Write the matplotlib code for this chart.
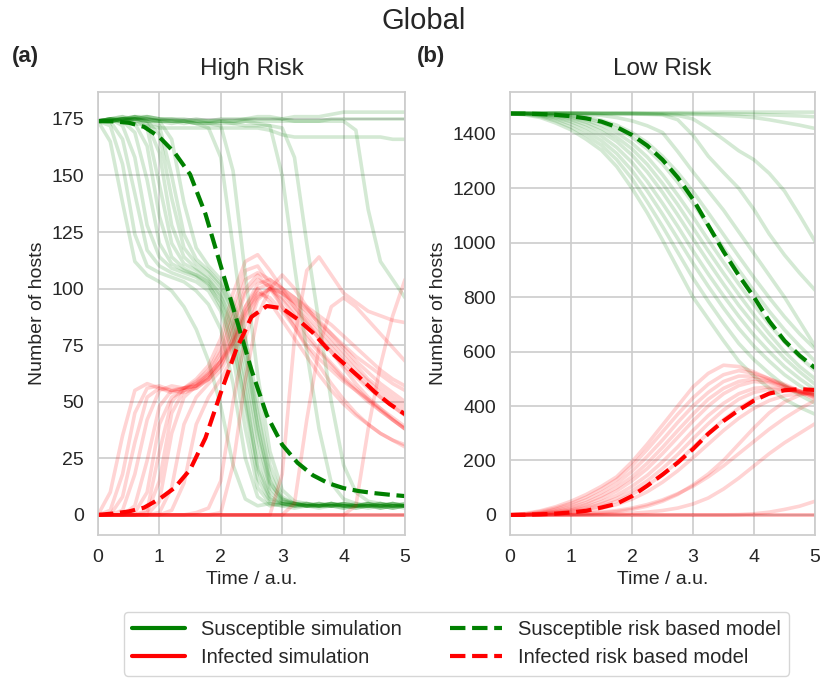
import matplotlib
matplotlib.use("Agg")
import matplotlib.pyplot as plt
import seaborn as sns
from matplotlib.lines import Line2D

# ---------------- data ----------------
t_sim_high = [0.0, 0.2, 0.4, 0.6, 0.8, 1.0, 1.2, 1.4, 1.6, 1.8, 2.0, 2.2, 2.4,
              2.6, 2.8, 3.0, 3.2, 3.4, 3.6, 3.8, 4.0, 4.2, 4.4, 4.6, 4.8, 5.0]

S_high_sims = [
    [174,165,138,112,106,103,99,92,82,68,48,22,7,4,5,4,3,4,5,4,3,4,5,4,3,4],
    [174,172,155,124,110,107,105,103,99,93,82,58,25,8,4,5,4,4,3,4,5,4,4,3,4,5],
    [174,174,166,142,117,110,107,105,103,99,90,70,38,12,5,4,5,4,4,5,4,3,4,4,5,4],
    [174,175,172,158,128,114,109,107,105,101,94,78,48,16,6,5,4,5,4,4,5,4,4,5,4,3],
    [174,174,174,169,148,120,111,108,106,103,96,82,55,20,7,5,4,4,5,4,3,4,5,4,4,4],
    [174,175,176,173,163,132,114,109,106,102,92,75,50,22,8,5,5,4,4,5,4,4,3,4,5,4],
    [174,174,175,175,171,146,120,111,108,104,97,84,60,28,10,5,4,5,4,4,4,5,4,4,3,4],
    [174,175,174,176,173,160,128,114,109,105,99,88,66,34,12,6,5,4,4,5,4,4,5,3,4,4],
    [174,174,175,175,174,168,140,118,111,107,101,90,70,40,15,6,5,5,4,4,5,4,4,4,5,4],
    [174,175,176,175,174,172,150,124,113,108,102,92,74,45,18,7,5,4,5,4,4,4,5,4,3,4],
    [174,174,175,176,175,174,166,138,118,110,104,94,78,50,22,8,5,4,4,5,4,4,4,5,4,4],
    [174,175,174,175,176,175,174,174,173,171,158,118,78,38,14,7,5,4,4,5,4,3,4,4,5,4],
    [174,174,175,175,174,174,173,174,173,173,172,152,106,62,28,11,6,5,4,4,5,4,4,3,4,4],
    [174,175,175,176,175,174,174,173,174,173,174,173,174,173,172,150,110,72,38,14,7,5,4,5,4,4],
    [174,174,175,175,175,174,174,174,173,173,173,173,172,172,172,171,158,120,85,50,22,10,6,5,4,5],
    [174,175,175,176,176,175,175,175,174,174,174,174,175,175,175,175,174,174,174,174,174,170,135,112,104,96],
    [174,175,174,175,176,175,175,174,175,174,175,175,175,176,176,175,176,176,176,177,178,178,178,178,178,178],
    [174,174,175,174,174,174,174,174,174,174,174,174,174,174,174,174,174,174,174,175,175,175,175,175,175,175],
    [174,174,174,173,172,171,171,171,171,171,171,171,171,171,170,168,167,167,167,167,167,167,167,167,166,166],
]

I_high_sims = [
    [0,10,35,55,58,56,55,56,60,66,78,98,112,115,108,100,92,85,78,72,65,58,52,47,42,38],
    [0,2,18,45,56,57,55,56,59,64,74,92,108,110,102,92,83,74,66,58,51,45,40,36,33,30],
    [0,0,8,32,52,56,54,56,58,63,72,88,104,107,104,100,96,92,88,84,79,74,69,64,60,57],
    [0,0,2,18,42,55,57,56,57,61,70,84,100,106,100,92,85,78,72,66,60,55,50,46,42,38],
    [0,0,0,4,24,48,55,54,56,60,68,82,98,104,101,98,94,90,85,80,75,70,66,62,58,55],
    [0,0,0,1,10,40,52,55,56,60,66,78,92,100,94,86,78,70,62,55,49,44,40,36,33,31],
    [0,0,0,0,2,28,50,56,57,60,66,76,90,98,96,90,83,75,69,64,59,55,51,47,43,39],
    [0,0,0,0,1,15,45,55,58,62,68,76,88,97,100,95,88,80,73,67,61,56,51,46,42,38],
    [0,0,0,0,0,6,36,52,57,62,68,78,92,102,104,100,96,91,86,80,74,68,63,58,54,50],
    [0,0,0,0,0,1,12,40,52,58,64,74,88,100,102,98,92,86,80,74,68,62,57,52,48,44],
    [0,0,0,0,0,0,2,14,40,52,60,70,84,96,100,98,94,88,82,76,70,64,59,54,50,46],
    [0,0,0,0,0,0,0,0,1,3,15,50,78,95,100,96,90,84,78,72,66,61,56,52,48,44],
    [0,0,0,0,0,0,0,0,0,0,1,22,60,88,100,106,100,92,84,78,72,66,60,56,52,48],
    [0,0,0,0,0,0,0,0,0,0,0,0,0,0,0,18,78,108,114,106,98,94,90,88,86,85],
    [0,0,0,0,0,0,0,0,0,0,0,0,0,0,0,0,5,42,74,92,96,92,86,80,74,68],
    [0,0,0,0,0,0,0,0,0,0,0,0,0,0,0,0,0,0,0,0,0,4,38,66,88,104],
    [0,0,0,0,0,0,0,0,0,0,0,0,0,0,0,0,0,0,0,0,0,0,0,0,0,0],
    [0,0,0,0,0,0,0,0,0,0,0,0,0,0,0,0,0,0,0,0,0,0,0,0,0,0],
    [0,0,0,0,0,0,0,0,0,0,0,0,0,0,0,0,0,0,0,0,0,0,0,0,0,0],
]

t_sim_low = [0.0, 0.25, 0.5, 0.75, 1.0, 1.25, 1.5, 1.75, 2.0, 2.25, 2.5,
             2.75, 3.0, 3.25, 3.5, 3.75, 4.0, 4.25, 4.5, 4.75, 5.0]

S_low_sims = [
    [1475,1470,1460,1440,1415,1380,1340,1280,1200,1110,1010,905,800,720,640,565,510,465,425,395,370],
    [1475,1472,1464,1448,1425,1395,1358,1305,1235,1150,1060,965,870,785,705,630,570,520,475,440,410],
    [1475,1473,1467,1455,1436,1410,1375,1328,1265,1190,1105,1015,925,840,760,685,620,565,515,475,440],
    [1475,1474,1469,1460,1445,1423,1392,1350,1295,1225,1145,1060,970,885,805,730,660,600,545,500,460],
    [1475,1474,1471,1464,1452,1434,1408,1372,1322,1260,1185,1102,1015,930,848,770,700,635,575,525,480],
    [1475,1475,1472,1467,1458,1443,1420,1388,1345,1288,1218,1140,1055,970,888,810,735,665,600,545,500],
    [1475,1475,1473,1469,1462,1450,1432,1405,1366,1315,1250,1175,1095,1010,928,848,772,700,635,580,530],
    [1475,1475,1474,1471,1466,1457,1442,1420,1388,1345,1290,1222,1145,1062,980,900,822,748,680,620,565],
    [1475,1475,1474,1473,1469,1462,1450,1432,1405,1368,1318,1258,1188,1110,1030,950,872,798,728,665,610],
    [1475,1476,1475,1475,1474,1472,1468,1460,1448,1430,1405,1335,1260,1190,1120,1040,960,880,800,710,620],
    [1475,1476,1476,1475,1475,1475,1474,1474,1473,1472,1470,1452,1395,1318,1258,1200,1122,1032,955,888,826],
    [1475,1476,1476,1477,1477,1476,1476,1475,1475,1474,1472,1468,1455,1420,1380,1338,1305,1255,1190,1100,1005],
    [1475,1475,1476,1476,1476,1475,1475,1475,1475,1474,1474,1473,1472,1470,1468,1465,1460,1452,1442,1432,1420],
    [1475,1475,1476,1476,1476,1476,1476,1477,1477,1477,1477,1478,1478,1479,1480,1480,1480,1480,1480,1480,1480],
    [1475,1475,1475,1476,1476,1476,1475,1475,1475,1475,1475,1475,1474,1474,1474,1473,1472,1470,1468,1466,1463],
]

I_low_sims = [
    [0,5,15,30,50,75,105,140,195,260,330,400,470,520,550,545,525,500,475,450,425],
    [0,3,12,25,42,65,95,130,180,240,305,370,430,480,515,530,520,500,480,455,430],
    [0,2,8,20,35,55,82,115,160,215,275,340,400,450,490,510,510,495,475,455,440],
    [0,2,6,15,28,45,70,100,140,190,248,310,370,425,465,490,500,490,470,450,435],
    [0,1,5,12,22,38,60,88,125,170,225,285,345,400,445,475,490,485,470,455,440],
    [0,1,4,10,18,30,48,72,105,145,195,250,310,365,410,445,465,470,462,450,440],
    [0,1,3,8,15,25,40,60,88,125,170,222,280,335,385,425,450,462,460,452,445],
    [0,0,2,6,12,20,32,50,75,108,148,195,248,300,350,392,425,445,455,455,450],
    [0,0,1,4,8,14,24,38,58,85,120,162,210,260,310,355,392,420,438,445,448],
    [0,0,1,2,4,6,10,16,25,38,55,78,105,140,180,225,270,315,355,390,420],
    [0,0,0,1,2,4,7,12,20,32,50,75,110,150,200,260,320,375,415,440,455],
    [0,0,0,0,0,1,2,4,6,10,16,25,40,62,95,135,180,225,265,300,335],
    [0,0,0,0,0,0,0,0,0,0,0,0,0,0,0,1,4,10,20,32,50],
    [0,0,0,0,0,0,0,0,0,0,0,0,0,0,0,0,0,0,0,0,0],
    [0,0,0,0,0,0,0,0,0,0,0,0,0,0,0,0,0,0,0,0,0],
]

t_model = [0.0, 0.25, 0.5, 0.75, 1.0, 1.25, 1.5, 1.75, 2.0, 2.25, 2.5,
           2.75, 3.0, 3.25, 3.5, 3.75, 4.0, 4.25, 4.5, 4.75, 5.0]
S_high_model = [174, 173.9, 173.3, 171.5, 167, 160, 150.5, 133, 110, 87, 64,
                44, 31, 23, 17.5, 14, 11.8, 10.5, 9.6, 8.9, 8.3]
I_high_model = [0, 0.6, 1.5, 3.2, 7, 12, 20, 34, 54, 73, 87.5,
                92.3, 91.3, 86.5, 80.5, 73, 67, 61, 54.5, 49, 44.5]
S_low_model = [1475, 1474.5, 1473, 1470, 1465, 1457, 1445, 1425, 1396, 1357, 1305,
               1240, 1160, 1064, 968, 880, 800, 712, 640, 585, 540]
I_low_model = [0, 0.5, 2, 4.5, 9, 15, 27, 41, 69, 107, 148,
               192, 242, 298, 345, 385, 420, 446, 458, 462, 459]

panel_titles = ["High Risk", "Low Risk"]
panel_letters = ["(a)", "(b)"]
legend_labels = ["Susceptible simulation", "Infected simulation",
                 "Susceptible risk based model", "Infected risk based model"]
yticks_high = [0, 25, 50, 75, 100, 125, 150, 175]
yticks_low = [0, 200, 400, 600, 800, 1000, 1200, 1400]
xticks = [0, 1, 2, 3, 4, 5]

# ---------------- style ----------------
sns.set_theme(style="whitegrid")
plt.rcParams["font.family"] = ["Liberation Sans", "DejaVu Sans"]
txt = "0.15"

fig = plt.figure(figsize=(8.22, 6.79), dpi=100)
ax1 = fig.add_axes([98/822, 1-535/679, 307/822, 443/679])
ax2 = fig.add_axes([510/822, 1-535/679, 305/822, 443/679])

SIM_LW = 2.6
SIM_A = 0.17

def draw(ax, t_sim, S_sims, I_sims, S_mod, I_mod, yt, title):
    for s, i in zip(S_sims, I_sims):
        ax.plot(t_sim, s, color="green", lw=SIM_LW, alpha=SIM_A, solid_capstyle="round")
        ax.plot(t_sim, i, color="red", lw=SIM_LW, alpha=SIM_A, solid_capstyle="round")
    ax.plot(t_model, S_mod, color="green", lw=3, ls="--")
    ax.plot(t_model, I_mod, color="red", lw=3, ls="--")
    ax.set_xlim(0, 5)
    ax.set_xticks(xticks)
    ax.set_yticks(yt)
    ax.tick_params(labelsize=14, colors=txt, pad=4)
    ax.set_xlabel("Time / a.u.", fontsize=14, color=txt)
    ax.set_ylabel("Number of hosts", fontsize=14, color=txt)
    ax.set_title(title, fontsize=17.5, color=txt, pad=12)
    for sp in ax.spines.values():
        sp.set_color("0.8")
        sp.set_linewidth(1.25)
    ax.grid(True, color="0.8", lw=1.2)

draw(ax1, t_sim_high, S_high_sims, I_high_sims, S_high_model, I_high_model,
     yticks_high, panel_titles[0])
draw(ax2, t_sim_low, S_low_sims, I_low_sims, S_low_model, I_low_model,
     yticks_low, panel_titles[1])

fig.text(0.014, 0.909, panel_letters[0], fontsize=16, fontweight="bold", color=txt)
fig.text(0.507, 0.909, panel_letters[1], fontsize=16, fontweight="bold", color=txt)
fig.suptitle("Global", x=0.515, y=0.99, fontsize=21, color=txt)

handles = [
    Line2D([], [], color="green", lw=3),
    Line2D([], [], color="red", lw=3),
    Line2D([], [], color="green", lw=3, ls="--"),
    Line2D([], [], color="red", lw=3, ls="--"),
]
leg = fig.legend(handles, legend_labels, loc="upper center",
                 bbox_to_anchor=(0.5555, 0.113), ncol=2, fontsize=14.5,
                 frameon=True, handlelength=2.6, columnspacing=2.4,
                 labelspacing=0.45, borderpad=0.4)
leg.get_frame().set_edgecolor("0.8")
for tx in leg.get_texts():
    tx.set_color(txt)

fig.savefig("out.png", dpi=100)
